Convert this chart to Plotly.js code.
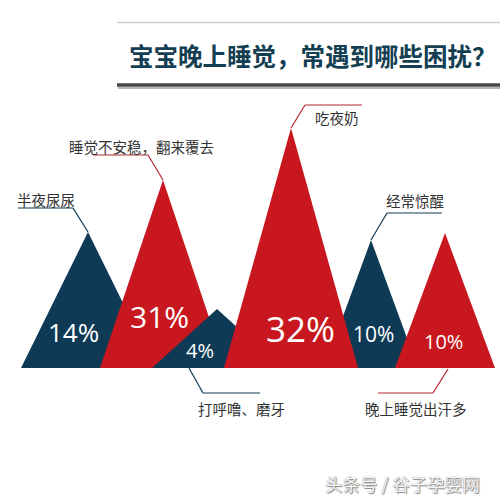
<!DOCTYPE html>
<html>
<head>
<meta charset="utf-8">
<script src="https://cdn.plot.ly/plotly-3.0.1.min.js"></script>
<style>html,body{margin:0;padding:0;background:#fff;}#chart{width:500px;height:500px;}</style>
</head>
<body>
<div id="chart"></div>
<script>
// ---- data ----
const titleText = '宝宝晚上睡觉，常遇到哪些困扰？';
const categories = ['半夜尿尿', '睡觉不安稳，翻来覆去', '打呼噜、磨牙', '吃夜奶', '经常惊醒', '晚上睡觉出汗多'];
const percents = [14, 31, 4, 32, 10, 10];
const peakHeights = [136, 188, 59, 240, 128, 135];
const watermark = '头条号 / 谷子孕婴网';

// ---- layout / style (positions and sizes) ----
const peakCenters = [88, 163, 217, 291, 371, 445];
const halfWidths = [67, 63, 65, 67, 47, 50];
const NAVY = '#0e3a56', RED = '#c8171e';
const fills = [NAVY, RED, NAVY, RED, NAVY, RED];
const lineCols = ['#103a52', '#b3262c', '#103a52', '#b3262c', '#103a52', '#b3262c'];
const drawOrder = [0, 1, 2, 4, 3, 5];
const pctPos = [[73, 36], [159, 52], [200, 18], [300, 40], [373, 34], [443, 27]];
const pctSize = [26, 30, 20, 35, 21, 20];
const callouts = [
  {elbow: [73, 160], endX: 18, text: [46, 169], apex: true},
  {elbow: [148, 213], endX: 93, text: [141, 222], apex: true},
  {elbow: [203, -25], endX: 260, text: [241, -40], apex: false, start: [189, 0]},
  {elbow: [305, 263], endX: 362, text: [336.5, 251], apex: true},
  {elbow: [387, 155], endX: 442, text: [415, 168], apex: true},
  {elbow: [433, -25], endX: 378, text: [415.5, -40], apex: false, start: [448, -1]}
];

const traces = drawOrder.map(i => ({
  type: 'scatter',
  mode: 'lines',
  x: [peakCenters[i] - halfWidths[i], peakCenters[i], peakCenters[i] + halfWidths[i], peakCenters[i] - halfWidths[i]],
  y: [0, peakHeights[i], 0, 0],
  fill: 'toself',
  fillcolor: fills[i],
  line: {width: 0, color: fills[i]},
  hoverinfo: 'skip'
}));

const annotations = [];
const shapes = [];
const FONT = '"Noto Sans CJK SC", "Noto Sans", sans-serif';

percents.forEach((p, i) => {
  annotations.push({
    x: pctPos[i][0], y: pctPos[i][1], xref: 'x', yref: 'y', xanchor: 'center', yanchor: 'middle',
    text: p + '%', showarrow: false,
    font: {family: '"Open Sans", "Noto Sans", sans-serif', size: pctSize[i], color: '#ffffff'}
  });
});

categories.forEach((c, i) => {
  const co = callouts[i];
  const start = co.apex ? [peakCenters[i], peakHeights[i]] : co.start;
  shapes.push({type: 'line', xref: 'x', yref: 'y', x0: start[0], y0: start[1], x1: co.elbow[0], y1: co.elbow[1],
    line: {color: lineCols[i], width: 1.2}});
  shapes.push({type: 'line', xref: 'x', yref: 'y', x0: co.elbow[0], y0: co.elbow[1], x1: co.endX, y1: co.elbow[1],
    line: {color: lineCols[i], width: 1.2}});
  annotations.push({
    x: co.text[0], y: co.text[1], xref: 'x', yref: 'y', xanchor: 'center', yanchor: 'middle',
    text: c, showarrow: false,
    font: {family: FONT, size: 14.5, color: '#333333'}
  });
});

const py = v => 1 - v / 500;
const px = v => v / 500;
shapes.push({type: 'line', xref: 'paper', yref: 'paper', x0: px(117), x1: 1, y0: py(22.5), y1: py(22.5), line: {color: '#cfcfcf', width: 1.5}});
shapes.push({type: 'line', xref: 'paper', yref: 'paper', x0: px(118), x1: 1, y0: py(88), y1: py(88), line: {color: '#b5b5b5', width: 2}});
shapes.push({type: 'line', xref: 'paper', yref: 'paper', x0: px(117), x1: 1, y0: py(85), y1: py(85), line: {color: '#474747', width: 3.5}});

annotations.push({
  xref: 'paper', yref: 'paper', x: px(313), y: py(56), xanchor: 'center', yanchor: 'middle',
  text: titleText, showarrow: false,
  font: {family: FONT, size: 24.5, color: '#143e51', weight: 'bold'}
});
annotations.push({
  xref: 'paper', yref: 'paper', x: px(402), y: py(483), xanchor: 'center', yanchor: 'middle',
  text: watermark, showarrow: false,
  font: {family: FONT, size: 17.5, color: '#f6f6f6', shadow: '0 0 1px #666, 1px 1px 1px #888'}
});

const layout = {
  width: 500, height: 500,
  margin: {l: 0, r: 0, t: 0, b: 0},
  paper_bgcolor: '#ffffff', plot_bgcolor: '#ffffff',
  showlegend: false, hovermode: false,
  xaxis: {range: [0, 500], visible: false, fixedrange: true},
  yaxis: {range: [-132, 368], visible: false, fixedrange: true},
  shapes: shapes,
  annotations: annotations
};

Plotly.newPlot('chart', traces, layout, {staticPlot: true, displayModeBar: false});
</script>
</body>
</html>
